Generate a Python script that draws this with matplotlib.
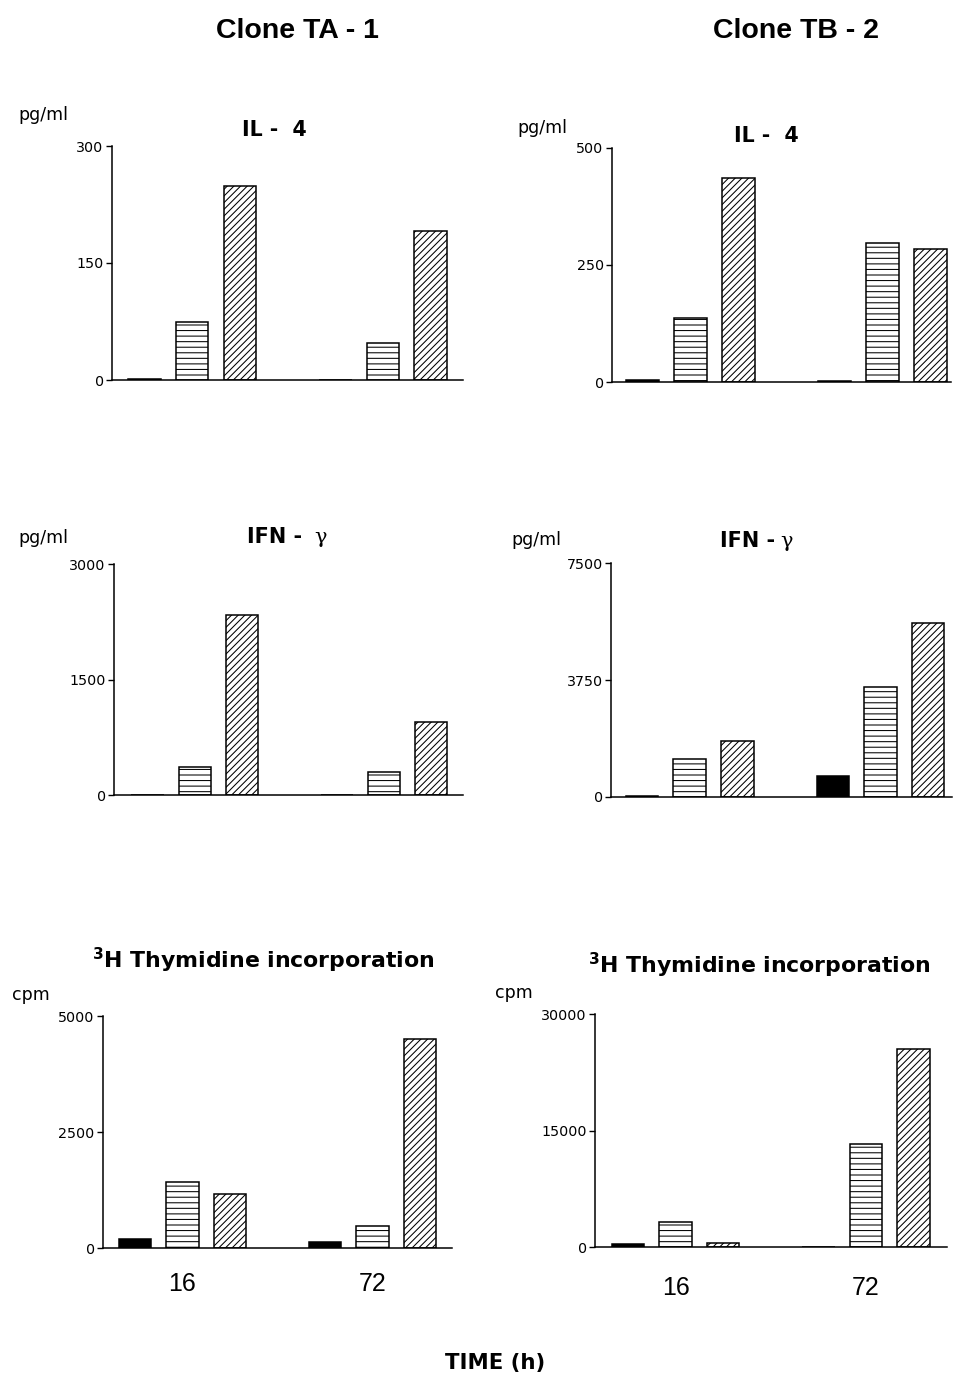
import matplotlib
matplotlib.use("Agg")
import matplotlib.pyplot as plt

W, H = 954, 1378
plt.rcParams['hatch.linewidth'] = 0.75
plt.rcParams['hatch.color'] = 'black'

# ---------------- data ----------------
time_points = ["16", "72"]
clones = ["Clone TA - 1", "Clone TB - 2"]

# series per panel: [16 h, 72 h]
ta_il4_black = [1, 0.5]
ta_il4_horiz = [74, 47]
ta_il4_diag = [249, 191]

tb_il4_black = [5, 3]
tb_il4_horiz = [137, 296]
tb_il4_diag = [436, 283]

ta_ifn_black = [8, 4]
ta_ifn_horiz = [364, 307]
ta_ifn_diag = [2342, 956]

tb_ifn_black = [15, 665]
tb_ifn_horiz = [1221, 3515]
tb_ifn_diag = [1790, 5591]

ta_thy_black = [200, 135]
ta_thy_horiz = [1429, 487]
ta_thy_diag = [1170, 4504]

tb_thy_black = [463, 80]
tb_thy_horiz = [3214, 13283]
tb_thy_diag = [553, 25500]

ta_il4_ticks = [0, 150, 300]
tb_il4_ticks = [0, 250, 500]
ta_ifn_ticks = [0, 1500, 3000]
tb_ifn_ticks = [0, 3750, 7500]
ta_thy_ticks = [0, 2500, 5000]
tb_thy_ticks = [0, 15000, 30000]

# ---------------- layout helpers ----------------
fig = plt.figure(figsize=(W / 100, H / 100), dpi=100)


def fx(x):
    return x / W


def fy(y):
    return 1 - y / H


def panel(x0, x1, ytop, ybot, c0, s, black, horiz, diag, ticks, show_x=False, xpad=18):
    ax = fig.add_axes([fx(x0), fy(ybot), (x1 - x0) / W, (ybot - ytop) / H])
    ax.set_xlim((x0 - c0) / s, (x1 - c0) / s)
    ax.set_ylim(ticks[0], ticks[-1])
    w = 0.68
    pos_black = [g * 4 + 0 for g in range(len(time_points))]
    pos_horiz = [g * 4 + 1 for g in range(len(time_points))]
    pos_diag = [g * 4 + 2 for g in range(len(time_points))]
    ax.bar(pos_black, black, width=w, facecolor='black', edgecolor='black', linewidth=1.1)
    ax.bar(pos_horiz, horiz, width=w, facecolor='white', edgecolor='black', linewidth=1.1, hatch='---')
    ax.bar(pos_diag, diag, width=w, facecolor='white', edgecolor='black', linewidth=1.1, hatch='/////')
    for sp in ['top', 'right']:
        ax.spines[sp].set_visible(False)
    for sp in ['left', 'bottom']:
        ax.spines[sp].set_linewidth(1.1)
    ax.set_yticks(ticks)
    ax.set_yticklabels([str(t) for t in ticks], fontsize=10.3, family='DejaVu Sans')
    ax.tick_params(axis='y', direction='out', length=4, width=1.0, pad=2)
    if show_x:
        ax.set_xticks(pos_horiz)
        ax.set_xticklabels(time_points, fontsize=18, family='Liberation Sans')
        ax.tick_params(axis='x', length=0, pad=xpad)
    else:
        ax.set_xticks([])
    ax.set_facecolor('none')
    return ax


panel(112, 463, 146, 380, 144.5, 47.7, ta_il4_black, ta_il4_horiz, ta_il4_diag, ta_il4_ticks)
panel(612, 951, 147.7, 382, 642.5, 48.0, tb_il4_black, tb_il4_horiz, tb_il4_diag, tb_il4_ticks)
panel(114, 463, 564.3, 795.3, 147.5, 47.3, ta_ifn_black, ta_ifn_horiz, ta_ifn_diag, ta_ifn_ticks)
panel(611, 952, 563.3, 796.7, 642, 47.7, tb_ifn_black, tb_ifn_horiz, tb_ifn_diag, tb_ifn_ticks)
panel(103, 452, 1016, 1248.3, 135, 47.5, ta_thy_black, ta_thy_horiz, ta_thy_diag, ta_thy_ticks,
      show_x=True, xpad=17)
panel(595, 947, 1014, 1247.3, 628, 47.6, tb_thy_black, tb_thy_horiz, tb_thy_diag, tb_thy_ticks,
      show_x=True, xpad=21)

# ---------------- texts ----------------
fig.text(fx(216), fy(38), clones[0], fontsize=20.5, fontweight='bold', family='Liberation Sans',
         ha='left', va='baseline')
fig.text(fx(713), fy(38), clones[1], fontsize=20.5, fontweight='bold', family='Liberation Sans',
         ha='left', va='baseline')

bold = dict(fontweight='bold', family='DejaVu Sans', ha='left', va='baseline')
fig.text(fx(242), fy(136), "IL -  4", fontsize=14.8, **bold)
fig.text(fx(734), fy(142), "IL -  4", fontsize=14.8, **bold)

fig.text(fx(247), fy(543), "IFN -", fontsize=15, **bold)
fig.text(fx(314), fy(543), "γ", fontsize=15, family='DejaVu Serif', ha='left', va='baseline')
fig.text(fx(720), fy(547), "IFN -", fontsize=15, **bold)
fig.text(fx(780), fy(547), "γ", fontsize=15, family='DejaVu Serif', ha='left', va='baseline')

fig.text(fx(92), fy(968), r"$^{\mathbf{3}}$H Thymidine incorporation", fontsize=15.8, **bold)
fig.text(fx(588), fy(973), r"$^{\mathbf{3}}$H Thymidine incorporation", fontsize=15.8, **bold)

unit = dict(family='DejaVu Sans', ha='left', va='baseline', fontsize=12.5)
fig.text(fx(18), fy(120), "pg/ml", **unit)
fig.text(fx(517), fy(133), "pg/ml", **unit)
fig.text(fx(18), fy(543), "pg/ml", **unit)
fig.text(fx(511), fy(545), "pg/ml", **unit)
fig.text(fx(12), fy(1000), "cpm", **unit)
fig.text(fx(495), fy(998), "cpm", **unit)

fig.text(fx(495), fy(1369), "TIME (h)", fontsize=15.3, fontweight='bold', family='DejaVu Sans',
         ha='center', va='baseline')

fig.savefig("out.png", dpi=100, facecolor='white')
